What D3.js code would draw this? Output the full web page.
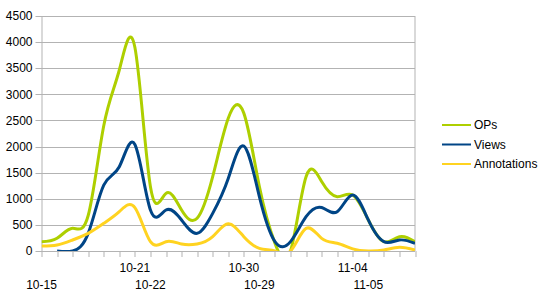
<!DOCTYPE html>
<html>
<head>
<meta charset="utf-8">
<script src="https://cdn.jsdelivr.net/npm/d3@7"></script>
<style>
  body { margin: 0; background: #fff; }
  text { font-family: "Liberation Sans", Arial, sans-serif; font-size: 12px; fill: #000; }
</style>
</head>
<body>
<div id="chart"></div>
<script>
// chart data, one value per day
const dayLabels = ["10-15","","","","","","10-21","10-22","","","","","","10-30","10-29","","","","","","11-04","11-05","","",""]
const ops         = [178, 243, 434, 680, 2400, 3466, 3900, 1232, 1104, 785, 626, 1423, 2540, 2640, 1232, 147, 0, 1423, 1330, 1040, 1072, 594, 178, 274, 178]
const views       = [null, 0, 0, 338, 1260, 1614, 2040, 785, 785, 594, 338, 721, 1390, 2010, 1040, 180, 180, 657, 833, 753, 1072, 594, 178, 211, 147]
const annotations = [96, 115, 211, 338, 530, 753, 830, 178, 178, 134, 134, 274, 520, 274, 51, 0, 0, 434, 243, 147, 40, 0, 19, 70, 19]
const yTicks = d3.range(0, 4501, 500)

const series = [
  {name: "OPs", values: ops, color: "#aecf00"},
  {name: "Views", values: views, color: "#004586"},
  {name: "Annotations", values: annotations, color: "#ffd320"}
]

// dimensions
const W = 548, H = 300
const margin = {top: 16, right: 133, bottom: 49, left: 41.5}
const width = W - margin.left - margin.right
const height = H - margin.top - margin.bottom

const svg = d3.select("#chart").append("svg")
    .attr("width", W)
    .attr("height", H)

const g = svg.append("g")
    .attr("transform", "translate(" + margin.left + "," + margin.top + ")")

// scales
const x = d3.scaleLinear()
    .domain([0, dayLabels.length - 1])
    .range([0, width])

const y = d3.scaleLinear()
    .domain([0, 4500])
    .range([height, 0])

// gridlines
g.append("g")
    .selectAll("line")
    .data(yTicks)
    .join("line")
    .attr("x1", -6)
    .attr("x2", width)
    .attr("y1", d => Math.round(y(d)) + 0.5)
    .attr("y2", d => Math.round(y(d)) + 0.5)
    .attr("stroke", "#b3b3b3")

// y labels
g.append("g")
    .selectAll("text")
    .data(yTicks)
    .join("text")
    .attr("x", -9)
    .attr("y", d => y(d))
    .attr("dy", "0.35em")
    .attr("text-anchor", "end")
    .text(d => d)

// left and right borders
g.append("line")
    .attr("x1", 0.5).attr("x2", 0.5)
    .attr("y1", 0).attr("y2", height)
    .attr("stroke", "#b3b3b3")
g.append("line")
    .attr("x1", Math.round(width) - 0.5).attr("x2", Math.round(width) - 0.5)
    .attr("y1", 0).attr("y2", height)
    .attr("stroke", "#b3b3b3")

// x axis ticks
g.append("g")
    .selectAll("line")
    .data(d3.range(dayLabels.length))
    .join("line")
    .attr("x1", d => Math.round(x(d)) + 0.5)
    .attr("x2", d => Math.round(x(d)) + 0.5)
    .attr("y1", height)
    .attr("y2", height + 6)
    .attr("stroke", "#b3b3b3")

// x labels, staggered in two rows
g.append("g")
    .selectAll("text")
    .data(dayLabels.map((t, i) => ({t, i})).filter(d => d.t !== ""))
    .join("text")
    .attr("x", d => x(d.i))
    .attr("y", d => d.i % 7 === 0 ? height + 38 : height + 21)
    .attr("text-anchor", "middle")
    .text(d => d.t)

// clip for the smooth lines
svg.append("defs").append("clipPath")
    .attr("id", "plot-clip")
    .append("rect")
    .attr("width", width)
    .attr("height", height)

g.append("g")
    .attr("clip-path", "url(#plot-clip)")
    .selectAll("path")
    .data(series)
    .join("path")
    .attr("fill", "none")
    .attr("stroke", d => d.color)
    .attr("stroke-width", 3)
    .attr("stroke-linejoin", "round")
    .attr("d", d => {
        // natural spline only through the defined run
        const start = d.values.findIndex(v => v != null)
        const l = d3.line()
            .x((v, i) => x(i + start))
            .y(v => y(v))
            .curve(d3.curveNatural)
        return l(d.values.slice(start))
    })

// legend
const legend = svg.append("g")
    .attr("transform", "translate(442,125)")

const item = legend.selectAll("g")
    .data(series)
    .join("g")
    .attr("transform", (d, i) => "translate(0," + (i * 19.5) + ")")

item.append("line")
    .attr("x1", 0).attr("x2", 29)
    .attr("stroke", d => d.color)
    .attr("stroke-width", 2)

item.append("text")
    .attr("x", 32)
    .attr("dy", "0.35em")
    .text(d => d.name)
</script>
</body>
</html>
